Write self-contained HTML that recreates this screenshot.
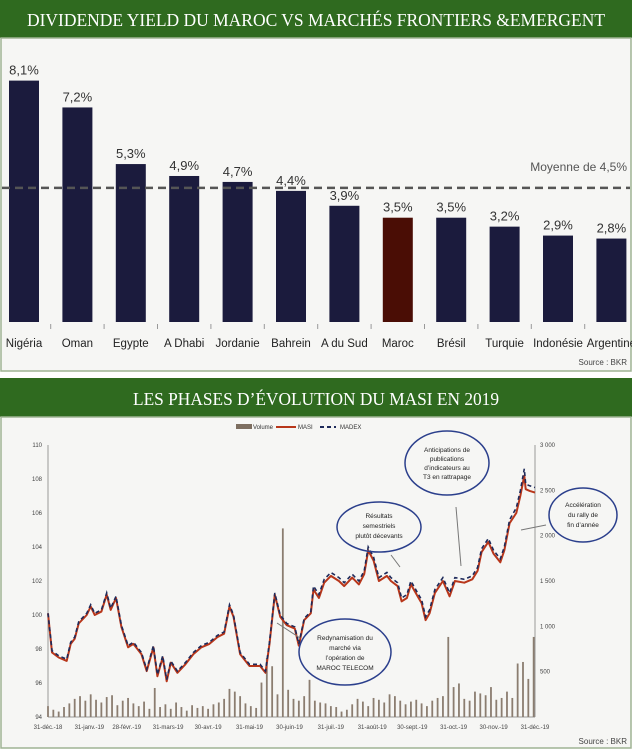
<!DOCTYPE html>
<html><head><meta charset="utf-8">
<style>
html,body{margin:0;padding:0;background:#fff;}
svg{display:block;}
.t{font-family:"Liberation Serif",serif;fill:#fff;}
.n{font-family:"Liberation Sans Narrow","Liberation Sans",sans-serif;}
</style></head>
<body>
<svg id="root" width="632" height="750" viewBox="0 0 632 750" xmlns="http://www.w3.org/2000/svg">
  <rect x="0" y="0" width="632" height="750" fill="#ffffff"/>
  <!-- Chart 1 -->
  <rect x="0" y="0" width="632" height="38" fill="#2f6a1f"/>
  <text class="t" x="316" y="26" text-anchor="middle" font-size="18" textLength="578" lengthAdjust="spacingAndGlyphs">DIVIDENDE YIELD DU MAROC VS MARCHÉS FRONTIERS &amp;EMERGENT</text>
  <rect x="1" y="38" width="630" height="333" fill="#f6f6f4" stroke="#9fb394" stroke-width="1.5"/>
  <g id="bars"></g>
  <text class="n" x="627" y="365" text-anchor="end" font-size="8" fill="#444">Source : BKR</text>

  <!-- Chart 2 -->
  <rect x="0" y="378" width="632" height="39" fill="#2f6a1f"/>
  <text class="t" x="316" y="405" text-anchor="middle" font-size="18" textLength="366" lengthAdjust="spacingAndGlyphs">LES PHASES D’ÉVOLUTION DU MASI EN 2019</text>
  <rect x="1" y="417" width="630" height="331" fill="#f6f6f4" stroke="#9fb394" stroke-width="1.5"/>
  <g>
    <rect x="236" y="424" width="16" height="5" fill="#7d6e60"/>
    <text class="n" x="253" y="429" font-size="6" fill="#333">Volume</text>
    <line x1="276" y1="427" x2="296" y2="427" stroke="#b8361a" stroke-width="2"/>
    <text class="n" x="298" y="429" font-size="6" fill="#333">MASI</text>
    <line x1="320" y1="427" x2="336" y2="427" stroke="#1e2a5a" stroke-width="2" stroke-dasharray="4,3"/>
    <text class="n" x="340" y="429" font-size="6" fill="#333">MADEX</text>
  </g>
  <g id="line"></g>
  <g font-family="Liberation Sans Narrow, Liberation Sans, sans-serif" font-size="6.5" fill="#222" text-anchor="middle">
    <ellipse cx="447" cy="463" rx="42" ry="32" fill="none" stroke="#2b3f8c" stroke-width="1.5"/>
    <text><tspan x="447" y="452">Anticipations de</tspan><tspan x="447" y="461">publications</tspan><tspan x="447" y="470">d’indicateurs au</tspan><tspan x="447" y="479">T3 en rattrapage</tspan></text>
    <ellipse cx="379" cy="527" rx="42" ry="25" fill="none" stroke="#2b3f8c" stroke-width="1.5"/>
    <text><tspan x="379" y="518">Résultats</tspan><tspan x="379" y="528">semestriels</tspan><tspan x="379" y="538">plutôt décevants</tspan></text>
    <ellipse cx="583" cy="515" rx="34" ry="27" fill="none" stroke="#2b3f8c" stroke-width="1.5"/>
    <text><tspan x="583" y="507">Accélération</tspan><tspan x="583" y="517">du rally de</tspan><tspan x="583" y="527">fin d’année</tspan></text>
    <ellipse cx="345" cy="652" rx="46" ry="33" fill="none" stroke="#2b3f8c" stroke-width="1.5"/>
    <text><tspan x="345" y="640">Redynamisation du</tspan><tspan x="345" y="650">marché via</tspan><tspan x="345" y="660">l’opération de</tspan><tspan x="345" y="670">MAROC TELECOM</tspan></text>
    <g stroke="#777" stroke-width="1" fill="none">
      <line x1="456" y1="507" x2="461" y2="566"/>
      <line x1="391" y1="555" x2="400" y2="567"/>
      <line x1="546" y1="525" x2="521" y2="530"/>
      <line x1="300" y1="638" x2="277" y2="623"/>
    </g>
  </g>
  <text class="n" x="627" y="744" text-anchor="end" font-size="8" fill="#444">Source : BKR</text>
</svg>
<script>
// ---- Chart 1 data ----
const countries = ["Nigéria","Oman","Egypte","A Dhabi","Jordanie","Bahrein","A du Sud","Maroc","Brésil","Turquie","Indonésie","Argentine"];
const yields = [8.1,7.2,5.3,4.9,4.7,4.4,3.9,3.5,3.5,3.2,2.9,2.8];
const yieldLabels = ["8,1%","7,2%","5,3%","4,9%","4,7%","4,4%","3,9%","3,5%","3,5%","3,2%","2,9%","2,8%"];
const average = [4.5];
const averageLabel = ["Moyenne de 4,5%"];

// ---- Chart 2 data ----
const masiDays = [0,3,8,14,17,20,23,29,32,35,40,44,47,51,55,60,64,70,74,79,82,86,89,92,97,103,109,115,121,127,132,136,139,144,151,159,163,166,170,174,179,185,188,192,197,199,203,207,212,218,222,228,233,237,240,244,248,254,257,262,265,269,272,277,280,283,286,290,296,301,305,312,318,322,325,330,334,339,342,346,351,354,357,358,361,365];
const masiValues = [100.1,97.8,97.5,97.3,98.3,98.6,99.5,100,100.5,100,100.2,101.2,100.3,101,99.3,98.1,98.3,97.7,96.7,98.1,96.4,97.5,96.1,97.2,96.6,97.1,97.7,98.1,98.3,98.7,98.9,100.5,99.9,97.7,97.0,97.0,96.6,98.3,101.2,99.9,99.4,99.2,98.2,99.7,100.1,101.5,101,101.9,102.3,102,101.7,102.2,101.8,102.4,103.8,103.2,102,102.3,102,101.7,100.8,101,101.8,101.1,100.7,99.7,100.1,101.3,102,101.1,102,101.9,102.1,102.6,103.7,104.3,103.6,103.1,103.8,105.4,106,107,108.2,107.4,107.3,107.2];
const madexValues = [100.1,97.9,97.6,97.4,98.4,98.7,99.6,100.1,100.6,100.1,100.3,101.3,100.4,101.1,99.4,98.2,98.4,97.8,96.8,98.2,96.5,97.6,96.2,97.3,96.7,97.2,97.8,98.2,98.4,98.8,99.0,100.6,100.0,97.8,97.1,97.1,96.7,98.4,101.3,100.0,99.5,99.3,98.3,99.8,100.2,101.7,101.2,102.1,102.5,102.2,101.9,102.4,102.0,102.6,104.0,103.4,102.2,102.5,102.2,101.9,101.0,101.2,102.0,101.3,100.9,99.9,100.3,101.5,102.2,101.3,102.2,102.1,102.3,102.8,103.9,104.5,103.8,103.3,104.0,105.6,106.3,107.3,108.6,107.7,107.6,107.5];
const volumes = [120,80,60,110,150,200,230,180,250,190,160,220,240,130,180,210,150,120,170,90,320,110,140,90,160,110,70,130,100,120,90,140,160,200,310,280,230,150,120,100,380,650,560,250,2080,300,200,180,230,410,180,160,150,120,110,60,80,140,200,170,120,210,190,160,250,230,180,140,170,190,150,120,180,210,230,883,330,370,200,180,280,260,240,330,190,210,280,210,590,607,420,883];
const volumeStepDays = 4;
const leftTicks = [94,96,98,100,102,104,106,108,110];
const rightTicks = [0,500,1000,1500,2000,2500,3000];
const rightTickLabels = ["","500","1 000","1 500","2 000","2 500","3 000"];
const dateTickDays = [0,31,59,90,120,151,181,212,243,273,304,334,365];
const dateTickLabels = ["31-déc.-18","31-janv.-19","28-févr.-19","31-mars-19","30-avr.-19","31-mai-19","30-juin-19","31-juil.-19","31-août-19","30-sept.-19","31-oct.-19","30-nov.-19","31-déc.-19"];

const NS = "http://www.w3.org/2000/svg";
function mk(tag, attrs, parent){ const e=document.createElementNS(NS,tag); for(const k in attrs) e.setAttribute(k,attrs[k]); parent.appendChild(e); return e; }

// ---- Chart 1 render ----
(function(){
  const g = document.getElementById("bars");
  const base = 322, pxPer = 29.8, x0 = 24, step = 53.4, bw = 30;
  const yS = v => base - v*pxPer;
  const xS = i => x0 + i*step;
  countries.forEach((c,i)=>{
    if(i>0){
      const tk = mk("line",{x1:xS(i)-step/2,x2:xS(i)-step/2,y1:base+2,y2:base+7,stroke:"#999","stroke-width":1},g);
      
      
    }
    const r = mk("rect",{x:xS(i)-bw/2,y:yS(yields[i]),width:bw,height:base-yS(yields[i]),fill:c==="Maroc"?"#4a0d05":"#1b1b3d"},g);
    
    
    const v = mk("text",{x:xS(i),y:yS(yields[i])-6,"text-anchor":"middle","font-size":"13",fill:"#333",class:"n"},g);
    v.textContent = yieldLabels[i];
    
    
    const l = mk("text",{x:xS(i),y:347,"text-anchor":"middle","font-size":"11.5",fill:"#222",class:"n"},g);
    l.textContent = c;
    
    
  });
  const ay = yS(average[0]);
  const al = mk("line",{x1:2,x2:630,y1:ay,y2:ay,stroke:"#555","stroke-width":2.5,"stroke-dasharray":"8,5"},g);
  
  
  const at = mk("text",{x:627,y:ay-17,"text-anchor":"end","font-size":"12",fill:"#555",class:"n"},g);
  at.textContent = averageLabel[0];
  
  
})();

// ---- Chart 2 render ----
(function(){
  const g = document.getElementById("line");
  const L=48, R=535, T=445, B=717;
  const xS = d => L + d/365*(R-L);
  const yS = v => T + (110-v)*(B-T)/16;
  const yV = v => B - v/3000*(B-T);
  const la = mk("line",{x1:L,x2:L,y1:T,y2:B,stroke:"#999","stroke-width":1},g);
  
  
  const ra = mk("line",{x1:R,x2:R,y1:T,y2:B,stroke:"#999","stroke-width":1},g);
  
  
  const xa = mk("line",{x1:L,x2:R,y1:B,y2:B,stroke:"#999","stroke-width":1},g);
  
  
  leftTicks.forEach(t=>{
    const e = mk("text",{x:L-6,y:yS(t)+2,"text-anchor":"end","font-size":"6",fill:"#444",class:"n"},g);
    e.textContent = t;
    
    
  });
  rightTicks.forEach((t,i)=>{
    const e = mk("text",{x:R+5,y:yV(t)+2,"font-size":"6",fill:"#444",class:"n"},g);
    e.textContent = rightTickLabels[i];
    
    
  });
  dateTickDays.forEach((d,i)=>{
    const e = mk("text",{x:xS(d),y:729,"text-anchor":"middle","font-size":"6",fill:"#444",class:"n"},g);
    e.textContent = dateTickLabels[i];
    
    
  });
  volumes.forEach((v,i)=>{
    const d = i*volumeStepDays;
    const r = mk("rect",{x:xS(d)-0.9,y:yV(v),width:1.8,height:B-yV(v),fill:"#8b7d70"},g);
    
    
  });
  const ptsM = masiDays.map((d,i)=>xS(d).toFixed(1)+","+yS(masiValues[i]).toFixed(1)).join(" ");
  const ptsD = masiDays.map((d,i)=>xS(d).toFixed(1)+","+yS(madexValues[i]).toFixed(1)).join(" ");
  const lm = mk("polyline",{points:ptsM,fill:"none",stroke:"#b8361a","stroke-width":2,"stroke-linejoin":"round"},g);
  
  
  const ld = mk("polyline",{points:ptsD,fill:"none",stroke:"#1e2a5a","stroke-width":1.6,"stroke-dasharray":"4,3"},g);
  
  
})();
</script>
</body></html>
